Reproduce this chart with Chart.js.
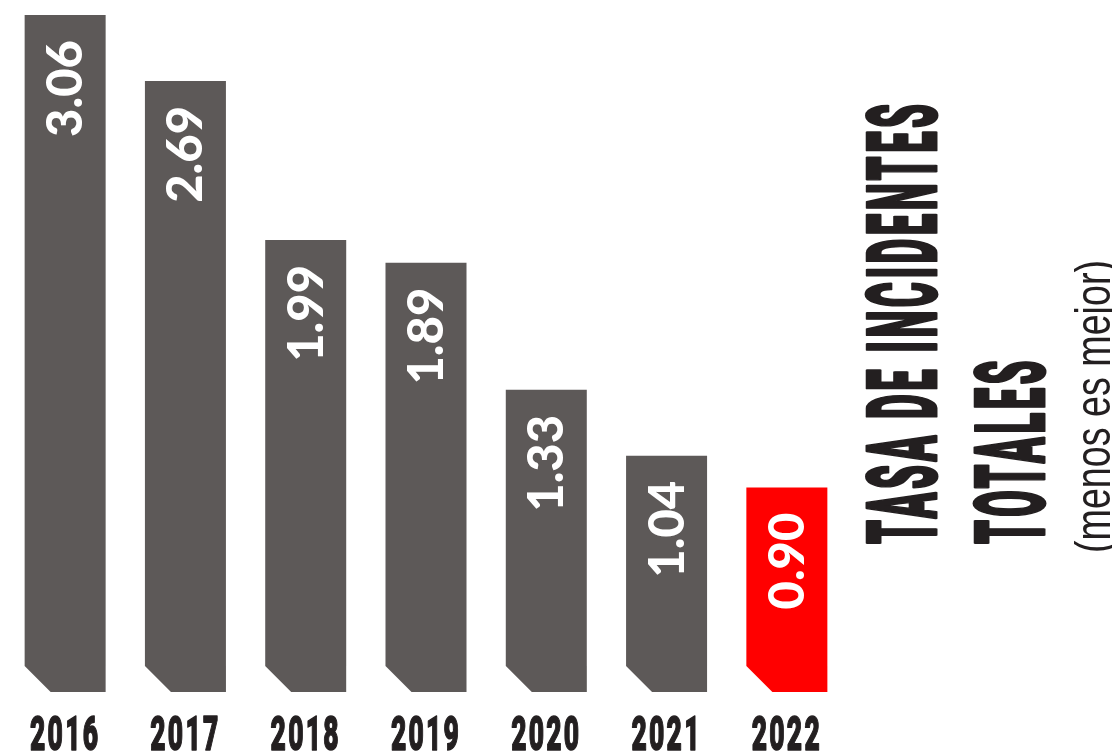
<!DOCTYPE html>
<html>
<head>
<meta charset="utf-8">
<script src="https://cdn.jsdelivr.net/npm/chart.js@4"></script>
<style>
  body { margin: 0; background: #fff; }
  #grafico { display: block; }
</style>
</head>
<body>
<canvas id="grafico" width="1112" height="753"></canvas>
<script>
// datos del grafico
var anos = ['2016', '2017', '2018', '2019', '2020', '2021', '2022'];
var tasas = [3.06, 2.69, 1.99, 1.89, 1.33, 1.04, 0.90];
var titulo = ['TASA DE INCIDENTES', 'TOTALES'];
var subtitulo = '(menos es mejor)';

// colores (el ultimo ano en rojo)
var gris = '#5d5958';
var rojo = '#ff0000';
var coloresBarras = anos.map(function (a, i) { return i == anos.length - 1 ? rojo : gris; });
var colorTexto = '#231f20';

// tamano de fuente para que las mayusculas midan "altura" px
function tamanoFuente(ctx, peso, familia, altura) {
    ctx.font = peso + ' 100px ' + familia;
    var m = ctx.measureText('H');
    return 100 * altura / m.actualBoundingBoxAscent;
}

// texto relleno + trazo para engrosar la letra condensada
function textoGrueso(ctx, texto, grosor) {
    ctx.lineWidth = grosor;
    ctx.lineJoin = 'round';
    ctx.strokeText(texto, 0, 0);
    ctx.fillText(texto, 0, 0);
}

// barras con la esquina inferior izquierda cortada + valores rotados
var barrasChaflan = {
    id: 'barrasChaflan',
    beforeDatasetsDraw: function (chart) {
        var ctx = chart.ctx;
        var area = chart.chartArea;
        var meta = chart.getDatasetMeta(0);
        var corte = 26;
        ctx.save();
        meta.data.forEach(function (barra, i) {
            var p = barra.getProps(['x', 'y', 'base', 'width'], true);
            var izq = p.x - p.width / 2;
            var der = p.x + p.width / 2;
            var arriba = Math.max(p.y, area.top);
            ctx.fillStyle = coloresBarras[i];
            ctx.beginPath();
            ctx.moveTo(izq, arriba);
            ctx.lineTo(der, arriba);
            ctx.lineTo(der, p.base);
            ctx.lineTo(izq + corte, p.base);
            ctx.lineTo(izq, p.base - corte);
            ctx.closePath();
            ctx.fill();

            // valor
            ctx.save();
            ctx.translate(p.x, arriba + 25);
            ctx.rotate(-Math.PI / 2);
            ctx.font = '900 49px Lato';
            ctx.fillStyle = '#ffffff';
            ctx.textAlign = 'right';
            ctx.textBaseline = 'alphabetic';
            ctx.fillText(tasas[i].toFixed(2), 0, 17);
            ctx.restore();
        });
        ctx.restore();
        return false;
    },
    afterDraw: function (chart) {
        var ctx = chart.ctx;
        var x = chart.scales.x;
        var fuenteCond = "'Roboto', 'Liberation Sans', sans-serif";

        ctx.save();
        ctx.fillStyle = colorTexto;
        ctx.strokeStyle = colorTexto;
        ctx.textBaseline = 'alphabetic';

        // anos abajo, letra condensada
        var tam = tamanoFuente(ctx, '900', fuenteCond, 34);
        ctx.font = '900 ' + tam + 'px ' + fuenteCond;
        ctx.letterSpacing = '4px';
        var escala = 68 / (ctx.measureText(anos[0]).width - 4);
        ctx.textAlign = 'center';
        chart.data.labels.forEach(function (lab, i) {
            ctx.save();
            ctx.translate(x.getPixelForValue(i) + 0, 749.5);
            ctx.scale(escala, 1);
            textoGrueso(ctx, lab, 1.5);
            ctx.restore();
        });

        // titulo vertical a la derecha
        tam = tamanoFuente(ctx, '900', fuenteCond, 70);
        ctx.font = '900 ' + tam + 'px ' + fuenteCond;
        ctx.letterSpacing = '9px';
        escala = 440 / (ctx.measureText(titulo[0]).width - 9);
        ctx.textAlign = 'left';
        var basesTitulo = [936, 1044];
        titulo.forEach(function (linea, i) {
            ctx.save();
            ctx.translate(basesTitulo[i], 544);
            ctx.rotate(-Math.PI / 2);
            ctx.scale(escala, 1);
            textoGrueso(ctx, linea, 3);
            ctx.restore();
        });

        // subtitulo
        ctx.letterSpacing = '0px';
        ctx.font = "50px 'Liberation Sans', Arial, sans-serif";
        escala = 293 / ctx.measureText(subtitulo).width;
        ctx.save();
        ctx.translate(1110, 553);
        ctx.rotate(-Math.PI / 2);
        ctx.scale(escala, 1);
        ctx.fillText(subtitulo, 0, 0);
        ctx.restore();

        ctx.restore();
    }
};

var config = {
    type: 'bar',
    data: {
        labels: anos,
        datasets: [{
            label: 'Tasa de incidentes totales',
            data: tasas,
            backgroundColor: coloresBarras,
            barThickness: 81
        }]
    },
    options: {
        responsive: false,
        animation: false,
        devicePixelRatio: 1,
        layout: {
            padding: { left: 5, right: 265, top: 15, bottom: 61 }
        },
        scales: {
            x: { display: false },
            y: { display: false, min: 0, max: 2.98 }
        },
        plugins: {
            legend: { display: false },
            tooltip: { enabled: false }
        }
    },
    plugins: [barrasChaflan]
};

var grafico = new Chart(document.getElementById('grafico'), config);
</script>
</body>
</html>
